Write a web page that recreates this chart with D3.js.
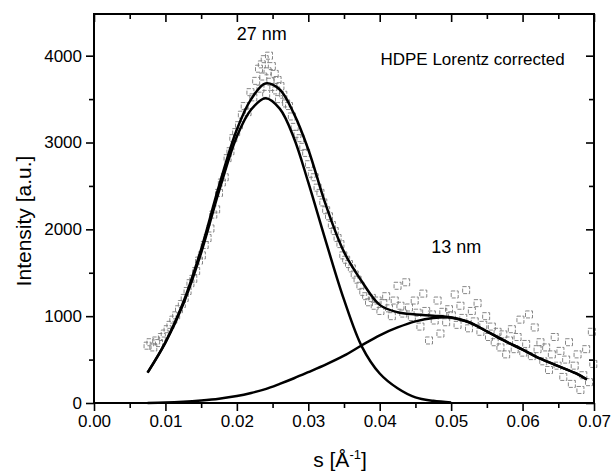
<!DOCTYPE html>
<html>
<head>
<meta charset="utf-8">
<script src="https://cdn.jsdelivr.net/npm/d3@7"></script>
<style>
  body { margin: 0; background: #fff; }
  text { font-family: Arial, "Liberation Sans", sans-serif; fill: #000; }
</style>
</head>
<body>
<div id="chart"></div>
<script>
var width = 611;
var height = 472;
var margin = {top: 14, left: 94, right: 17, bottom: 69};

// measured points (s in 1/Angstrom, intensity in a.u.)
var sObs = [0.0075, 0.0079, 0.0083, 0.0087, 0.0091, 0.0095, 0.0099, 0.0103, 0.0107, 0.0111,
  0.0115, 0.0119, 0.0123, 0.0127, 0.0131, 0.0135, 0.0139, 0.0143, 0.0147, 0.0151,
  0.0155, 0.0159, 0.0163, 0.0167, 0.0171, 0.0175, 0.0179, 0.0183, 0.0187, 0.0191,
  0.0195, 0.0199, 0.0203, 0.0207, 0.0211, 0.0215, 0.0219, 0.0223, 0.0227, 0.0231,
  0.0233, 0.0235, 0.0237, 0.0239, 0.0241, 0.0243, 0.0245, 0.0247, 0.0249, 0.0251,
  0.0253, 0.0255, 0.0257, 0.0259, 0.0261, 0.0265, 0.0269, 0.0273, 0.0277, 0.0281,
  0.0285, 0.0289, 0.0293, 0.0297, 0.0301, 0.0305, 0.0309, 0.0313, 0.0317, 0.0321,
  0.0325, 0.0329, 0.0333, 0.0337, 0.0341, 0.0345, 0.0349, 0.0353, 0.0357, 0.0361,
  0.0365, 0.0369, 0.0373, 0.0377, 0.0381, 0.0385, 0.0389, 0.0393, 0.0397, 0.0401,
  0.0405, 0.0409, 0.0413, 0.0417, 0.0421, 0.0425, 0.0429, 0.0433, 0.0437, 0.0441,
  0.0445, 0.0449, 0.0453, 0.0457, 0.0461, 0.0465, 0.0469, 0.0473, 0.0477, 0.0481,
  0.0485, 0.0489, 0.0493, 0.0497, 0.0501, 0.0505, 0.0509, 0.0513, 0.0517, 0.0521,
  0.0525, 0.0529, 0.0533, 0.0537, 0.0541, 0.0545, 0.0549, 0.0553, 0.0557, 0.0561,
  0.0565, 0.0569, 0.0573, 0.0577, 0.0581, 0.0585, 0.0589, 0.0593, 0.0597, 0.0601,
  0.0605, 0.0609, 0.0613, 0.0617, 0.0621, 0.0625, 0.0629, 0.0633, 0.0637, 0.0641,
  0.0645, 0.0649, 0.0653, 0.0657, 0.0661, 0.0665, 0.0669, 0.0673, 0.0677, 0.0681,
  0.0685, 0.0689, 0.0693, 0.0697, 0.0699];
var iObs = [660, 700, 640, 720, 690, 760, 800, 850, 900, 960,
  1010, 1080, 1140, 1210, 1290, 1380, 1430, 1520, 1640, 1700,
  1820, 1900, 2010, 2170, 2230, 2420, 2540, 2600, 2820, 2900,
  3050, 3120, 3200, 3320, 3420, 3350, 3580, 3520, 3710, 3850,
  3620, 3900, 3760, 3960, 3560, 3820, 4000, 3700, 3880, 3640,
  3790, 3600, 3720, 3500, 3650, 3550, 3450, 3420, 3300, 3180,
  3100, 3050, 2950, 2880, 2750, 2640, 2600, 2480, 2420, 2310,
  2220, 2150, 2050, 1980, 1900, 1830, 1700, 1650, 1600, 1550,
  1480, 1420, 1350, 1280, 1230, 1160, 1210, 1120, 1180, 1060,
  1150, 1230, 1090, 1000, 1180, 1350, 1120, 1030, 1390, 1100,
  990, 1180, 1040, 880, 1260, 1060, 720, 1020, 950, 1180,
  800, 1050, 930, 1080, 1010, 1250, 900, 1120, 980, 1300,
  860, 1060, 940, 1150, 820, 900, 1000, 760, 880, 700,
  820, 640, 790, 560, 720, 850, 620, 760, 960, 580,
  680, 1020, 540, 870, 620, 700, 480, 640, 380, 560,
  760, 430, 600, 300, 500, 700, 220, 430, 560, 150,
  320, 620, 240, 820, 450];

// fitted curves
var sFit = [0.0075, 0.010, 0.0125, 0.015, 0.0175, 0.020, 0.022, 0.024, 0.026, 0.028,
  0.030, 0.0325, 0.035, 0.0375, 0.040, 0.0425, 0.045, 0.0475, 0.050, 0.0525,
  0.055, 0.0575, 0.060, 0.0625, 0.065, 0.0675, 0.069];
var fitTotal = [350, 700, 1160, 1770, 2500, 3150, 3500, 3680, 3610, 3330,
  2920, 2270, 1740, 1400, 1130, 1045, 1020, 1005, 985, 930,
  825, 715, 615, 510, 425, 340, 270];
var fitPeak27 = [350, 695, 1140, 1730, 2440, 3070, 3380, 3510, 3390, 3050,
  2540, 1850, 1190, 650, 340, 170, 65, 25, 5, null,
  null, null, null, null, null, null, null];
var fitPeak13 = [0, 5, 15, 30, 50, 80, 115, 160, 220, 285,
  355, 445, 545, 665, 780, 870, 940, 980, 985, 930,
  825, 715, 615, 510, 425, 340, 270];

var xTicks = [0.00, 0.01, 0.02, 0.03, 0.04, 0.05, 0.06, 0.07];
var xMinor = [0.005, 0.015, 0.025, 0.035, 0.045, 0.055, 0.065];
var yTicks = [0, 1000, 2000, 3000, 4000];
var yMinor = [500, 1500, 2500, 3500];

var svg = d3.select("#chart").append("svg")
    .attr("width", width)
    .attr("height", height);

var x = d3.scaleLinear().domain([0, 0.07]).range([margin.left, width - margin.right]);
var y = d3.scaleLinear().domain([0, 4480]).range([height - margin.bottom, margin.top]);

// scattered data, hollow grey squares
var pts = d3.zip(sObs, iObs);
svg.append("g").selectAll("rect")
    .data(pts)
    .enter().append("rect")
    .attr("x", function(d) { return x(d[0]) - 3.5; })
    .attr("y", function(d) { return y(d[1]) - 3.5; })
    .attr("width", 7)
    .attr("height", 7)
    .attr("fill", "none")
    .attr("stroke", "#7a7a7a")
    .attr("stroke-width", 0.9)
    .attr("stroke-dasharray", "4,1.5");

var line = d3.line()
    .defined(function(d) { return d[1] != null; })
    .x(function(d) { return x(d[0]); })
    .y(function(d) { return y(d[1]); })
    .curve(d3.curveCatmullRom);

[fitPeak13, fitPeak27, fitTotal].forEach(function(vals) {
  svg.append("path")
      .datum(d3.zip(sFit, vals))
      .attr("fill", "none")
      .attr("stroke", "#000")
      .attr("stroke-width", 2.5)
      .attr("d", line);
});

// axes
function styleAxis(g) {
  g.select(".domain").remove();
  g.selectAll(".tick line").attr("stroke", "#000").attr("stroke-width", 1.6);
  g.selectAll(".tick text").style("font-size", "17px");
}

svg.append("g").attr("transform", "translate(0," + y(0) + ")")
    .call(d3.axisBottom(x).tickValues(xTicks).tickSize(8).tickPadding(4).tickFormat(d3.format(".2f")))
    .call(styleAxis);
svg.append("g").attr("transform", "translate(0," + y(0) + ")")
    .call(d3.axisBottom(x).tickValues(xMinor).tickSize(5).tickFormat(""))
    .call(styleAxis);

svg.append("g").attr("transform", "translate(" + x(0) + ",0)")
    .call(d3.axisLeft(y).tickValues(yTicks).tickSize(8).tickPadding(4).tickFormat(d3.format("d")))
    .call(styleAxis);
svg.append("g").attr("transform", "translate(" + x(0) + ",0)")
    .call(d3.axisLeft(y).tickValues(yMinor).tickSize(5).tickFormat(""))
    .call(styleAxis);

// mirrored axes, ticks pointing in
svg.append("g").attr("transform", "translate(0," + margin.top + ")")
    .call(d3.axisBottom(x).tickValues(xTicks).tickSize(8).tickFormat(""))
    .call(styleAxis);
svg.append("g").attr("transform", "translate(0," + margin.top + ")")
    .call(d3.axisBottom(x).tickValues(xMinor).tickSize(5).tickFormat(""))
    .call(styleAxis);
svg.append("g").attr("transform", "translate(" + x(0.07) + ",0)")
    .call(d3.axisLeft(y).tickValues(yTicks).tickSize(8).tickFormat(""))
    .call(styleAxis);
svg.append("g").attr("transform", "translate(" + x(0.07) + ",0)")
    .call(d3.axisLeft(y).tickValues(yMinor).tickSize(5).tickFormat(""))
    .call(styleAxis);

// frame
svg.append("rect")
    .attr("x", x(0))
    .attr("y", margin.top)
    .attr("width", x(0.07) - x(0))
    .attr("height", y(0) - margin.top)
    .attr("fill", "none")
    .attr("stroke", "#000")
    .attr("stroke-width", 2);

// axis titles
svg.append("text")
    .attr("transform", "translate(31,221) rotate(-90)")
    .attr("text-anchor", "middle")
    .style("font-size", "21px")
    .text("Intensity [a.u.]");

var xt = svg.append("text")
    .attr("x", (x(0) + x(0.07)) / 2 - 4)
    .attr("y", 467)
    .attr("text-anchor", "middle")
    .style("font-size", "21px");
xt.append("tspan").text("s [Å");
xt.append("tspan").attr("dy", -8).style("font-size", "13px").text("-1");
xt.append("tspan").attr("dy", 8).text("]");

// annotations
svg.append("text")
    .attr("x", x(0.0235)).attr("y", y(4180))
    .attr("text-anchor", "middle")
    .style("font-size", "18px")
    .text("27 nm");

svg.append("text")
    .attr("x", x(0.0507)).attr("y", y(1728))
    .attr("text-anchor", "middle")
    .style("font-size", "18px")
    .text("13 nm");

svg.append("text")
    .attr("x", x(0.0659)).attr("y", y(3894))
    .attr("text-anchor", "end")
    .style("font-size", "17px")
    .text("HDPE Lorentz corrected");
</script>
</body>
</html>
